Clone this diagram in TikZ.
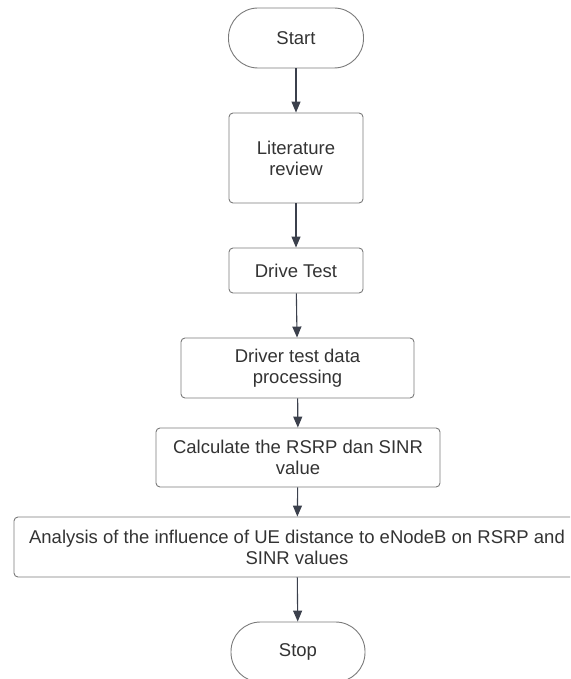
\documentclass[tikz,border=0pt]{standalone}
\usepackage{fontspec}
\setmainfont{Liberation Sans}
\usetikzlibrary{arrows.meta}
\definecolor{boxline}{HTML}{7A7A7A}
\definecolor{txt}{HTML}{333333}
\definecolor{arr}{HTML}{3B404C}
\tikzset{
  x=1pt,y=1pt,
  box/.style={draw=boxline, line width=0.9pt, rounded corners=4pt, align=center,
    text=txt, font=\fontsize{18.5}{21}\selectfont, inner sep=0pt},
  term/.style={box, rounded corners=29.5pt},
  flow/.style={draw=arr, line width=1.1pt, -{Triangle[length=11pt,width=9pt]}}
}
\begin{document}
\begin{tikzpicture}
\useasboundingbox (0,0) rectangle (570,-679);
\clip (0,0) rectangle (570,-679);
\node[term, minimum width=135pt, minimum height=60pt] (start) at (296,-38) {Start};
\node[box, minimum width=134pt, minimum height=90pt] (lit) at (296,-158) {Literature\\review};
\node[box, minimum width=134pt, minimum height=45pt] (drive) at (296,-270.5) {Drive Test};
\node[box, minimum width=233pt, minimum height=60pt] (proc) at (297.5,-368) {Driver test data\\processing};
\node[box, minimum width=284pt, minimum height=59pt] (calc) at (298,-457.5) {Calculate the RSRP dan SINR\\value};
\node[box, minimum width=566pt, minimum height=60pt] (anal) at (297,-547) {Analysis of the influence of UE distance to eNodeB on RSRP and\\SINR values};
\node[term, minimum width=134pt, minimum height=60pt] (stop) at (298,-652) {Stop};
\draw[flow] (start) -- (lit);
\draw[flow] (lit) -- (drive);
\draw[flow] (drive) -- (proc);
\draw[flow] (proc) -- (calc);
\draw[flow] (calc) -- (anal);
\draw[flow] (anal) -- (stop);
\end{tikzpicture}
\end{document}
